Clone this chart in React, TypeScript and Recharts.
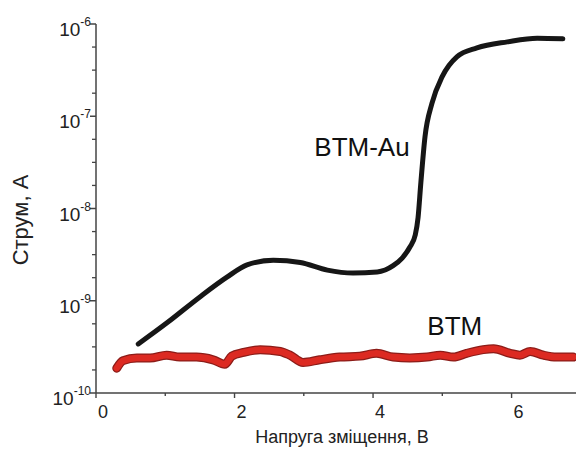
import React from 'react';
import { LineChart, Line, XAxis, YAxis, ReferenceDot } from 'recharts';

// Bias voltage (V) and current (A)
const btmAuVoltage = [0.61, 1.03, 1.50, 1.89, 2.18, 2.56, 2.95, 3.34, 3.71, 4.06, 4.29, 4.42, 4.53, 4.61, 4.65, 4.69, 4.75, 4.85, 5.00, 5.21, 5.50, 5.94, 6.37, 6.74];
const btmAuCurrent = [3.4e-10, 5.8e-10, 1.1e-9, 1.8e-9, 2.45e-9, 2.75e-9, 2.6e-9, 2.15e-9, 2.0e-9, 2.05e-9, 2.4e-9, 2.9e-9, 3.8e-9, 5.2e-9, 8.0e-9, 1.9e-8, 6.0e-8, 1.38e-7, 2.7e-7, 4.4e-7, 5.5e-7, 6.4e-7, 7.0e-7, 6.9e-7];

const btmVoltage = [0.30, 0.39, 0.59, 0.78, 1.02, 1.21, 1.45, 1.69, 1.86, 1.96, 2.13, 2.37, 2.66, 2.80, 2.99, 3.23, 3.52, 3.81, 4.05, 4.29, 4.53, 4.78, 4.97, 5.16, 5.35, 5.59, 5.74, 5.98, 6.12, 6.27, 6.46, 6.65, 6.89];
const btmCurrent = [1.86e-10, 2.24e-10, 2.4e-10, 2.4e-10, 2.57e-10, 2.45e-10, 2.45e-10, 2.29e-10, 2.05e-10, 2.51e-10, 2.75e-10, 2.95e-10, 2.82e-10, 2.57e-10, 2.14e-10, 2.29e-10, 2.45e-10, 2.51e-10, 2.69e-10, 2.45e-10, 2.4e-10, 2.45e-10, 2.57e-10, 2.45e-10, 2.69e-10, 2.95e-10, 3.02e-10, 2.69e-10, 2.57e-10, 2.82e-10, 2.57e-10, 2.45e-10, 2.45e-10];

const xTicks = [0, 1, 2, 3, 4, 5, 6];
const xTickLabels = ['0', '', '2', '', '4', '', '6'];
const yDecades = [-10, -9, -8, -7, -6];
const yMinorSteps = [0.25, 0.5, 0.75];

const FONT = '"Liberation Sans", Arial, Helvetica, sans-serif';
const AXIS = '#444';

const btmAuData = btmAuVoltage.map((v, i) => ({ v, i: btmAuCurrent[i] }));
const btmData = btmVoltage.map((v, i) => ({ v, i: btmCurrent[i] }));

const yTicks: number[] = [];
yDecades.forEach((d, k) => {
  yTicks.push(Math.pow(10, d));
  if (k < yDecades.length - 1) yMinorSteps.forEach((s) => yTicks.push(Math.pow(10, d + s)));
});

const YTick = (props: any) => {
  const { x, y, payload } = props;
  const lg = Math.log10(payload.value);
  const major = Math.abs(lg - Math.round(lg)) < 1e-6;
  if (!major) {
    return <line x1={x - 4} x2={x} y1={y} y2={y} stroke={AXIS} strokeWidth={1.3} />;
  }
  return (
    <g>
      <line x1={x - 6} x2={x} y1={y} y2={y} stroke={AXIS} strokeWidth={1.5} />
      <text x={x - 5} y={y + 12} textAnchor="end" fontFamily={FONT} fill="#222">
        <tspan fontSize={19}>10</tspan>
        <tspan fontSize={12} dy={-10}>{String(Math.round(lg))}</tspan>
      </text>
    </g>
  );
};

const XTick = (props: any) => {
  const { x, y, payload, index } = props;
  const label = xTickLabels[index];
  const major = label !== '';
  return (
    <g>
      <line x1={x} x2={x} y1={y} y2={y + (major ? 5 : 3)} stroke={AXIS} strokeWidth={1.4} />
      {major && (
        <text x={x + 7} y={y + 25} textAnchor="middle" fontFamily={FONT} fontSize={18} fill="#222">
          {label}
        </text>
      )}
    </g>
  );
};

const XTitle = () => (
  <text x={342} y={443} textAnchor="middle" fontFamily={FONT} fontSize={18} fill="#222">
    Напруга зміщення, В
  </text>
);

const YTitle = () => (
  <text x={28} y={220} textAnchor="middle" fontFamily={FONT} fontSize={22} fill="#222" transform="rotate(-90, 28, 220)">
    Струм, А
  </text>
);

export default function App() {
  return (
    <div style={{ position: 'absolute', left: 0, top: 0, width: 576, height: 450, background: '#fff' }}>
      <LineChart width={576} height={450} margin={{ top: 24, right: 0, bottom: 0, left: 0 }}>
        <XAxis
          type="number"
          dataKey="v"
          domain={[0, 6.93]}
          ticks={xTicks}
          allowDataOverflow
          height={57}
          tickSize={0}
          tickMargin={0}
          tickLine={false}
          tick={<XTick />}
          axisLine={{ stroke: AXIS, strokeWidth: 1.5 }}
          label={<XTitle />}
        />
        <YAxis
          type="number"
          dataKey="i"
          scale="log"
          domain={[1e-10, 1e-6]}
          ticks={yTicks}
          allowDataOverflow
          width={96}
          tickSize={0}
          tickMargin={0}
          tickLine={false}
          tick={<YTick />}
          interval={0}
          axisLine={{ stroke: AXIS, strokeWidth: 1.5 }}
          label={<YTitle />}
        />
        <Line data={btmData} dataKey="i" type="monotone" stroke="#8c1c18" strokeWidth={9} dot={false} isAnimationActive={false} strokeLinecap="round" />
        <Line data={btmData} dataKey="i" type="monotone" stroke="#dc2a22" strokeWidth={6.5} dot={false} isAnimationActive={false} strokeLinecap="round" />
        <Line data={btmAuData} dataKey="i" type="monotone" stroke="#161616" strokeWidth={5} dot={false} isAnimationActive={false} strokeLinecap="round" />
        <ReferenceDot
          x={3.84}
          y={4.7e-8}
          r={0}
          fill="none"
          stroke="none"
          ifOverflow="visible"
          label={{ value: 'BTM-Au', position: 'center', fontSize: 26, fill: '#111', fontFamily: FONT }}
        />
        <ReferenceDot
          x={5.18}
          y={5.3e-10}
          r={0}
          fill="none"
          stroke="none"
          ifOverflow="visible"
          label={{ value: 'BTM', position: 'center', fontSize: 26, fill: '#111', fontFamily: FONT }}
        />
      </LineChart>
    </div>
  );
}
